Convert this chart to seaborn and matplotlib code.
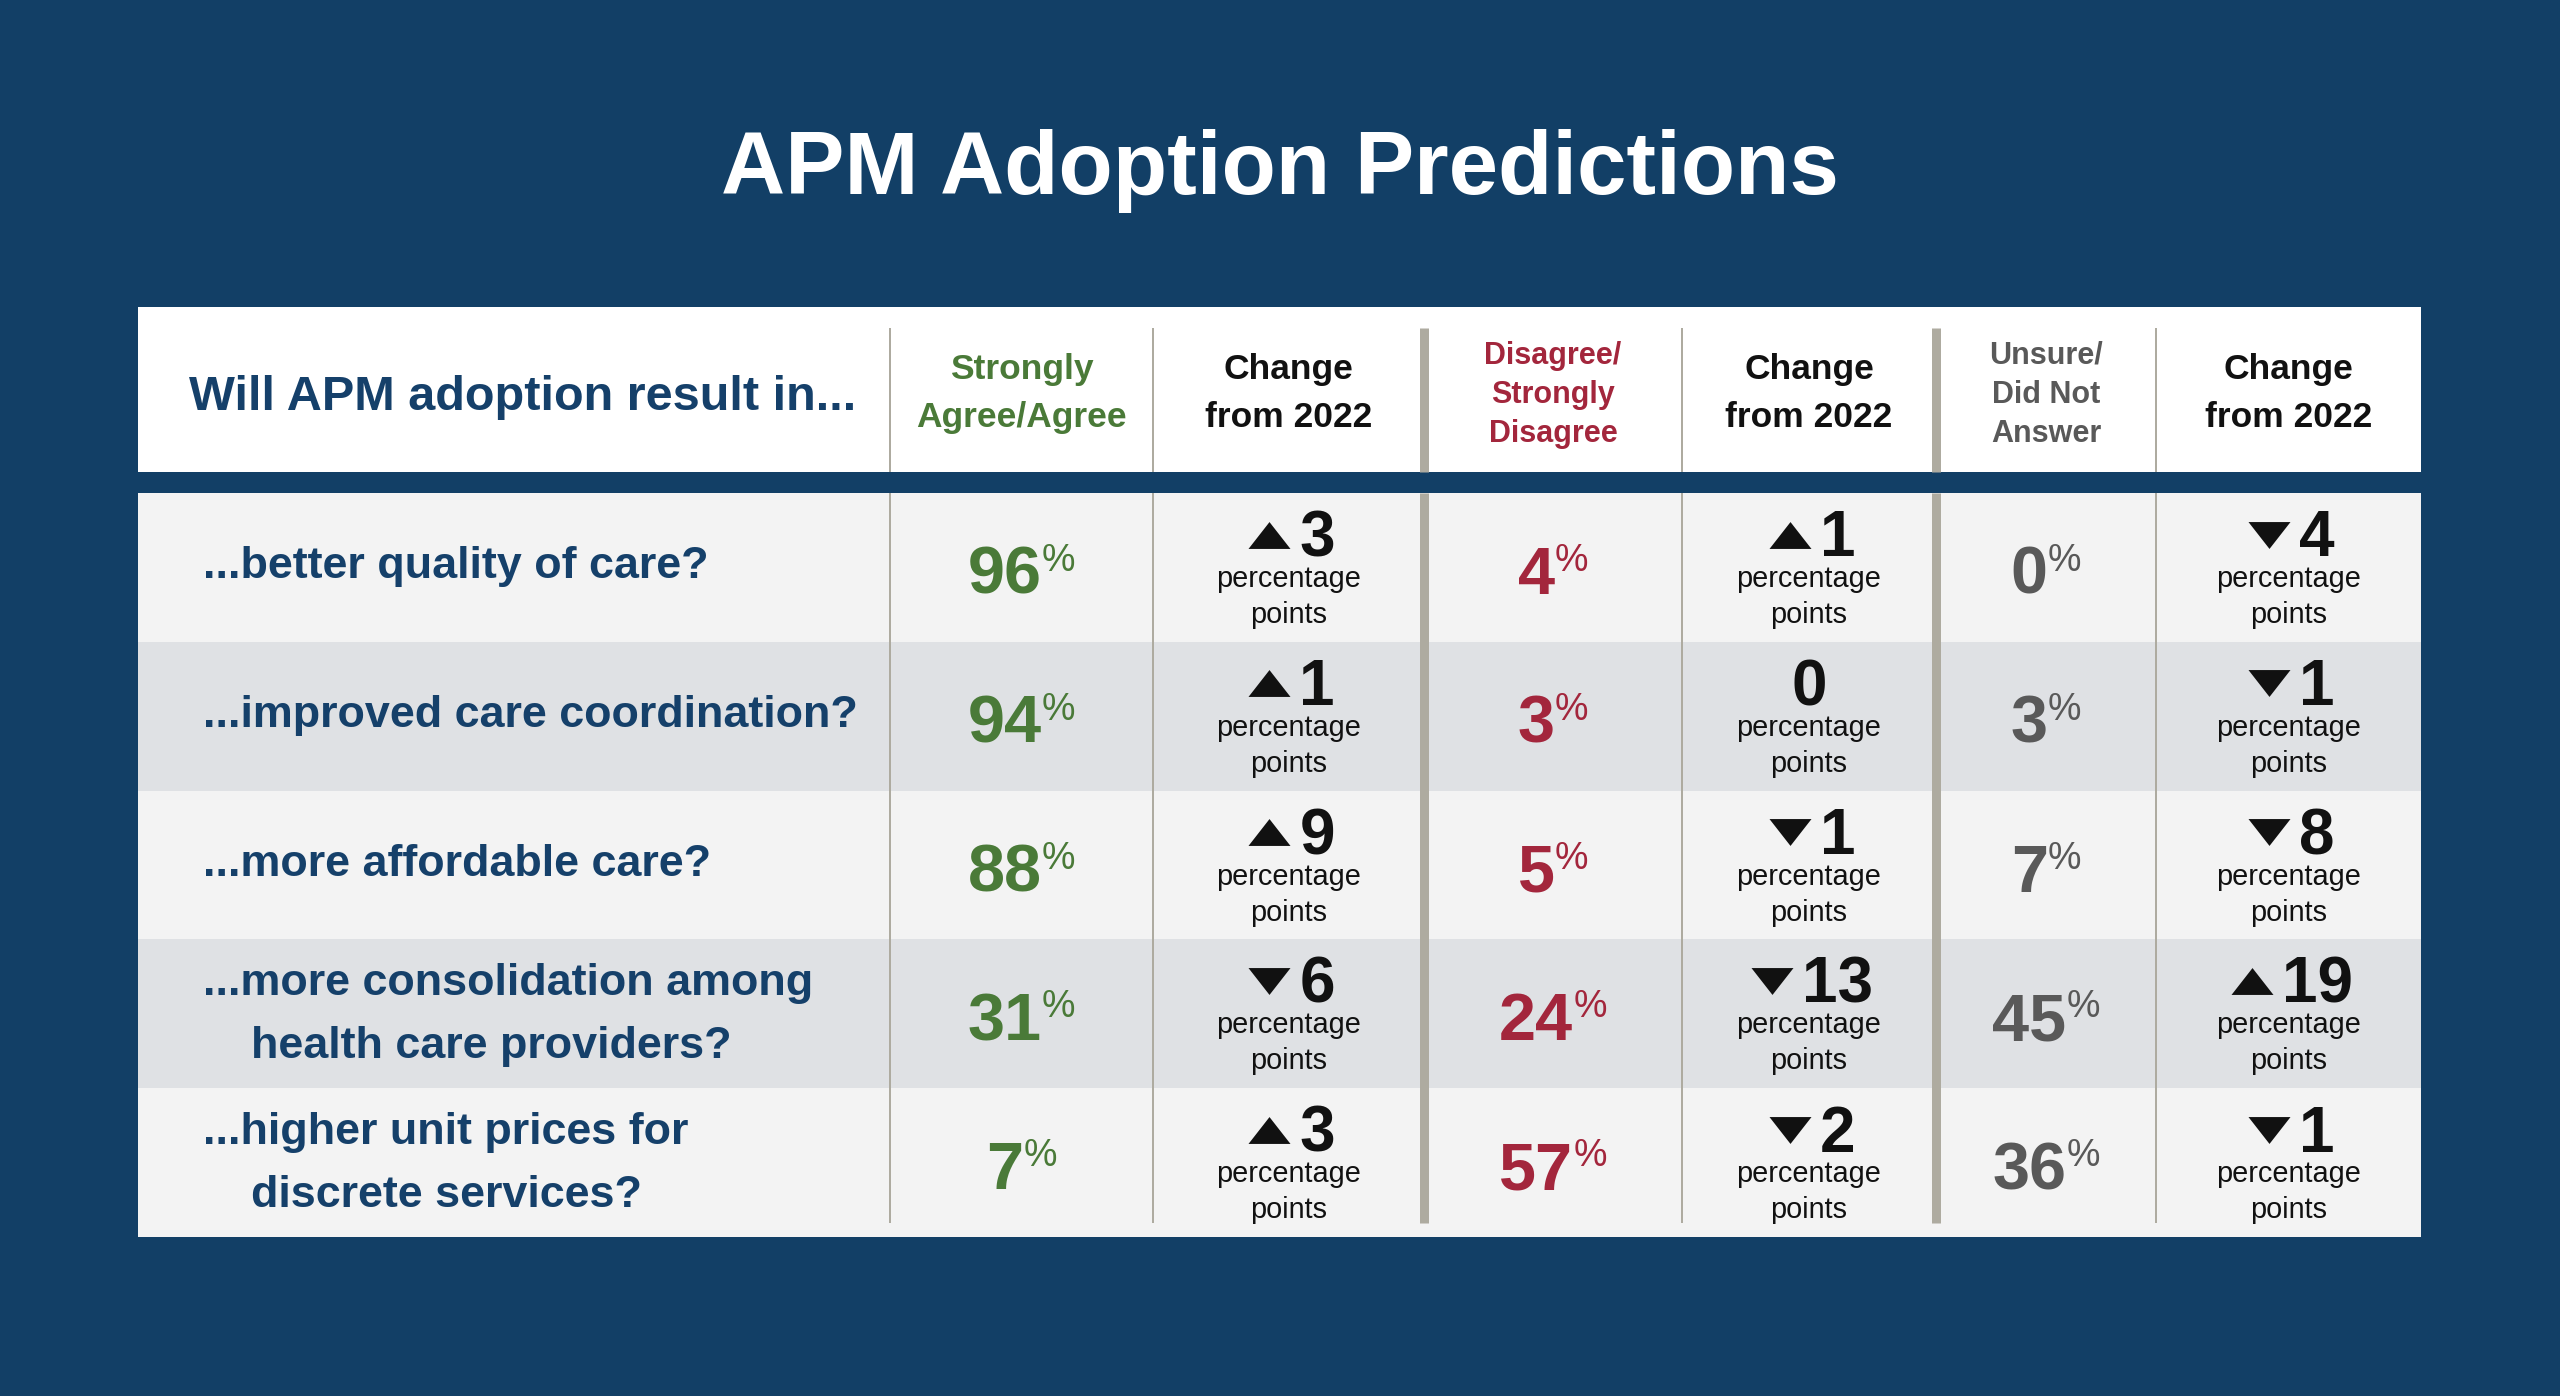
import numpy as np
import matplotlib
matplotlib.use("Agg")
import matplotlib.pyplot as plt
import seaborn as sns
from matplotlib.colors import ListedColormap
from matplotlib.patches import Rectangle

# ---------------- data ----------------
title = "APM Adoption Predictions"
question_header = "Will APM adoption result in..."
questions = [
    ["...better quality of care?"],
    ["...improved care coordination?"],
    ["...more affordable care?"],
    ["...more consolidation among", "health care providers?"],
    ["...higher unit prices for", "discrete services?"],
]
col_headers = [
    ["Strongly", "Agree/Agree"],
    ["Change", "from 2022"],
    ["Disagree/", "Strongly", "Disagree"],
    ["Change", "from 2022"],
    ["Unsure/", "Did Not", "Answer"],
    ["Change", "from 2022"],
]
agree = [96, 94, 88, 31, 7]
agree_change = [3, 1, 9, -6, 3]
disagree = [4, 3, 5, 24, 57]
disagree_change = [1, 0, -1, -13, -2]
unsure = [0, 3, 7, 45, 36]
unsure_change = [-4, -1, -8, 19, -1]
change_unit = ["percentage", "points"]

# ---------------- style ----------------
BG = "#123f66"
NAVY = "#15406a"
GREEN = "#4a7a38"
RED = "#a3263c"
GREY = "#595959"
BLACK = "#111111"
ROW_A = "#f3f3f3"
ROW_B = "#dfe1e4"
DIV = "#aeaba0"
header_colors = [GREEN, BLACK, RED, BLACK, GREY, BLACK]
value_colors = [GREEN, RED, GREY]

sns.set_theme(style="white")
plt.rcParams["font.family"] = ["Liberation Sans", "DejaVu Sans"]

W, H = 2560, 1396
TBL_L, TBL_R = 138, 2421
HDR_T, HDR_B = 307, 472
BODY_T, BODY_B = 493, 1237
div_x = [890, 1153, 1424, 1682, 1936, 2156]
div_w = [2, 2, 9, 2, 9, 2]
edges = div_x + [TBL_R]
centers = [(edges[i] + edges[i + 1]) / 2 for i in range(6)]
n_rows = len(questions)
row_h = (BODY_B - BODY_T) / n_rows

fig = plt.figure(figsize=(W / 100, H / 100), dpi=100, facecolor=BG)

# body stripes via seaborn heatmap
hax = fig.add_axes([TBL_L / W, 1 - BODY_B / H, (TBL_R - TBL_L) / W, (BODY_B - BODY_T) / H])
stripes = np.array([[i % 2] for i in range(n_rows)])
sns.heatmap(stripes, cmap=ListedColormap([ROW_A, ROW_B]), cbar=False, ax=hax,
            xticklabels=False, yticklabels=False, vmin=0, vmax=1)
hax.set_axis_off()
hax.set_zorder(0)

ax = fig.add_axes([0, 0, 1, 1])
ax.set_xlim(0, W)
ax.set_ylim(H, 0)
ax.set_axis_off()
ax.patch.set_alpha(0)
ax.set_zorder(1)
renderer = fig.canvas.get_renderer()

def width_of(t):
    return t.get_window_extent(renderer).width

# title
ax.text(W / 2, 194, title, color="white", fontsize=64, fontweight="bold",
        ha="center", va="baseline")

# header box
ax.add_patch(Rectangle((TBL_L, HDR_T), TBL_R - TBL_L, HDR_B - HDR_T, facecolor="white",
                       edgecolor="none", zorder=0))
ax.text(189, 410, question_header, color=NAVY, fontsize=35, fontweight="bold",
        ha="left", va="baseline")
for c, lines in enumerate(col_headers):
    if len(lines) == 2:
        ys, fs = [379, 427], 25.5
    else:
        ys, fs = [364, 403, 442], 22
    for line, y in zip(lines, ys):
        ax.text(centers[c], y, line, color=header_colors[c], fontsize=fs,
                fontweight="bold", ha="center", va="baseline")

# dividers
for x, w in zip(div_x, div_w):
    ax.plot([x, x], [328, HDR_B], color=DIV, lw=w * 0.72, solid_capstyle="butt", zorder=2)
    ax.plot([x, x], [BODY_T, 1223], color=DIV, lw=w * 0.72, solid_capstyle="butt", zorder=2)

# body
values = [agree, disagree, unsure]
changes = [agree_change, disagree_change, unsure_change]
up_marker = [(-1, -0.64), (1, -0.64), (0, 0.64)]
down_marker = [(-1, 0.64), (1, 0.64), (0, -0.64)]
tri_w = 42
gap = 9

for r in range(n_rows):
    top = BODY_T + r * row_h
    mid = top + row_h / 2
    q = questions[r]
    if len(q) == 1:
        ax.text(203, mid + 11, q[0], color=NAVY, fontsize=32.3, fontweight="bold",
                ha="left", va="baseline")
    else:
        ax.text(203, mid - 18.5, q[0], color=NAVY, fontsize=32.3, fontweight="bold",
                ha="left", va="baseline")
        ax.text(251, mid + 44.5, q[1], color=NAVY, fontsize=32.3, fontweight="bold",
                ha="left", va="baseline")

    for k in range(3):
        # percentage value
        cx = centers[2 * k]
        base = top + 101
        tn = ax.text(0, base, f"{values[k][r]}", color=value_colors[k], fontsize=48,
                     fontweight="bold", ha="left", va="baseline")
        tp = ax.text(0, base - 23, "%", color=value_colors[k], fontsize=27,
                     ha="left", va="baseline")
        wn, wp = width_of(tn), width_of(tp)
        x0 = cx - (wn + wp) / 2
        tn.set_x(x0)
        tp.set_x(x0 + wn)

        # change value
        cx = centers[2 * k + 1]
        ch = changes[k][r]
        nb = top + 63.5
        tc = ax.text(0, nb, f"{abs(ch)}", color=BLACK, fontsize=46, fontweight="bold",
                     ha="left", va="baseline")
        wc = width_of(tc)
        if ch == 0:
            tc.set_x(cx - wc / 2)
        else:
            total = tri_w + gap + wc
            x0 = cx - total / 2 + 3
            ax.scatter([x0 + tri_w / 2], [nb - 22], s=(tri_w * 0.72) ** 2,
                       marker=up_marker if ch > 0 else down_marker,
                       color=BLACK, linewidths=0, zorder=3)
            tc.set_x(x0 + tri_w + gap)
        ax.text(cx, top + 94, change_unit[0], color=BLACK, fontsize=20.8,
                ha="center", va="baseline")
        ax.text(cx, top + 130, change_unit[1], color=BLACK, fontsize=20.8,
                ha="center", va="baseline")

fig.savefig("out.png", dpi=100, facecolor=BG)
